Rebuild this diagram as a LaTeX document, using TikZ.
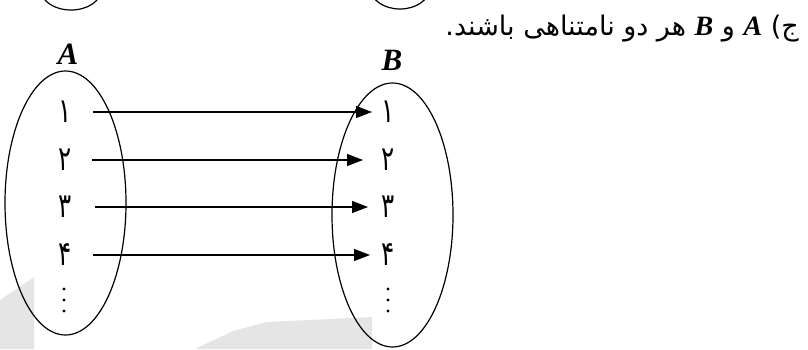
\documentclass[tikz,border=0pt]{standalone}
\usepackage{fontspec}
\setmainfont{Liberation Serif}
\newfontfamily\arabicfont[Script=Arabic]{DejaVu Sans}
\TeXXeTstate=1
\usetikzlibrary{arrows.meta,shapes.geometric}
\tikzset{
  setell/.style={draw, ellipse, line width=1.2pt, inner sep=0pt},
  num/.style={font=\arabicfont\fontsize{34}{40}\selectfont, inner sep=0pt},
  lbl/.style={font=\fontsize{31}{36}\selectfont\bfseries\itshape, inner sep=0pt},
  maparrow/.style={line width=1.2pt, -{Triangle[length=16pt,width=12pt]}},
  wmark/.style={fill=black!10, draw=none}
}
\newcommand{\latinAB}[1]{{\fontspec{Liberation Serif}\bfseries\itshape\fontsize{28}{32}\selectfont #1}}
\newcommand{\narrowdigit}[1]{\scalebox{0.72}[1]{#1}}
\begin{document}
\begin{tikzpicture}[x=1pt,y=-1pt]
\useasboundingbox (0,0) rectangle (808,349);
\clip (0,0) rectangle (808,349);
% faint watermark shapes
\fill[wmark] (0,300) -- (34,277) -- (34,349) -- (0,349) -- cycle;
\fill[wmark] (195,349) -- (233,331) -- (267,322) -- (372,317) -- (372,349) -- cycle;
% bottoms of previous figure's sets
\draw[line width=1.2pt] (71,-10) ellipse [x radius=30pt, y radius=20pt];
\draw[line width=1.2pt] (400,-11) ellipse [x radius=29pt, y radius=20pt];
% title
\node[anchor=east, inner sep=0pt, font=\arabicfont\fontsize{27}{31}\selectfont] (title) at (799,29)
  {\beginR ج) \latinAB{A} و \latinAB{B} هر دو نامتناهی باشند.\endR};
% sets
\node[setell, minimum width=121pt, minimum height=264pt] (setA) at (65.5,203) {};
\node[setell, minimum width=121pt, minimum height=264pt] (setB) at (392.5,215) {};
\node[lbl] (labA) at (68,54) {A};
\node[lbl] (labB) at (392,60) {B};
% elements
\foreach \i/\d/\y in {1/۱/112,2/۲/160,3/۳/207,4/۴/255}{
  \node[num] (a\i) at (65,\y) {\narrowdigit{\d}};
  \node[num] (b\i) at (388,\y) {\narrowdigit{\d}};
}
\foreach \yy in {289,300,311}{
  \fill (64,\yy) circle (1.6pt);
  \fill (388,\yy) circle (1.6pt);
}
% arrows
\draw[maparrow] ([xshift=28pt]a1.center) -- ([xshift=-16pt]b1.center);
\draw[maparrow] ([xshift=27pt]a2.center) -- ([xshift=-25pt]b2.center);
\draw[maparrow] ([xshift=30pt]a3.center) -- ([xshift=-20pt]b3.center);
\draw[maparrow] ([xshift=28pt]a4.center) -- ([xshift=-18pt]b4.center);
\end{tikzpicture}
\end{document}
